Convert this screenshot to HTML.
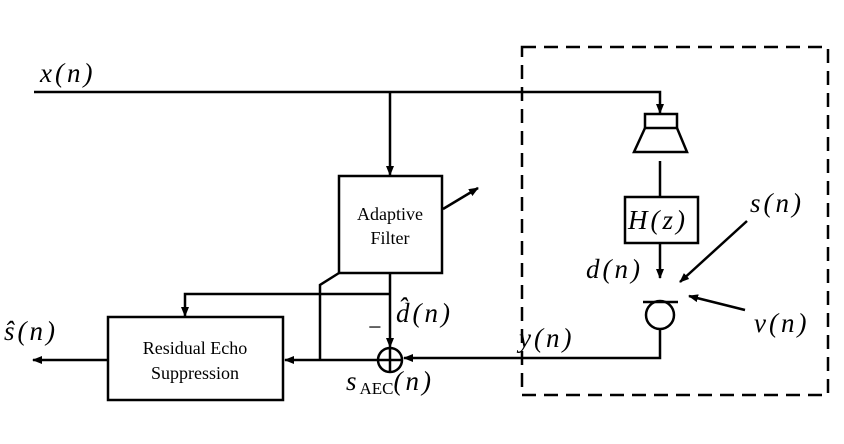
<!DOCTYPE html>
<html><head><meta charset="utf-8"><style>
body{margin:0;background:#fff}
svg text{font-family:"Liberation Serif",serif}
.m{font-style:italic;font-size:27px;letter-spacing:3px}
</style></head><body>
<svg width="844" height="439" viewBox="0 0 844 439" xmlns="http://www.w3.org/2000/svg">
<defs><marker id="a" markerWidth="10" markerHeight="8" refX="9" refY="4" orient="auto" markerUnits="userSpaceOnUse"><path d="M0,0 L10,4 L0,8z" fill="#000"/></marker></defs>
<g stroke="#000" stroke-width="2.5" fill="none">
<rect x="522" y="47" width="306" height="348" stroke-dasharray="14,8"/>
<path d="M34 92 H660 V113" marker-end="url(#a)"/>
<path d="M390 92 V175" marker-end="url(#a)"/>
<rect x="339" y="176" width="103" height="97"/>
<path d="M443 209 L478 188" marker-end="url(#a)"/>
<path d="M390 273 V347" marker-end="url(#a)"/>
<circle cx="390" cy="360" r="12"/>
<path d="M378 360 H402 M390 348 V372"/>
<path d="M390 294 H185 V316" marker-end="url(#a)"/>
<path d="M339 273 L320 285 V360"/>
<path d="M378 360 H285" marker-end="url(#a)"/>
<rect x="108" y="317" width="175" height="83"/>
<path d="M108 360 H33" marker-end="url(#a)"/>
<rect x="645" y="114" width="32" height="14"/>
<path d="M645 128 L634 152 H687 L677 128"/>
<path d="M660 161 V197"/>
<rect x="625" y="197" width="73" height="46"/>
<path d="M660 243 V278" marker-end="url(#a)"/>
<path d="M747 221 L680 282" marker-end="url(#a)"/>
<path d="M745 310 L689 296" marker-end="url(#a)"/>
<path d="M643 302 H678"/>
<circle cx="660" cy="315" r="14"/>
<path d="M660 329 V358 H404" marker-end="url(#a)"/>
</g>
<text class="m" x="40" y="82">x(n)</text>
<text x="390" y="220" font-size="18" text-anchor="middle">Adaptive</text>
<text x="390" y="244" font-size="18" text-anchor="middle">Filter</text>
<text x="195" y="354" font-size="18" text-anchor="middle">Residual Echo</text>
<text x="195" y="379" font-size="18" text-anchor="middle">Suppression</text>
<text class="m" x="4" y="340">ŝ(n)</text>
<text class="m" x="396" y="322">d̂(n)</text>
<text x="368" y="335" font-size="24">−</text>
<text class="m" x="346" y="390">s<tspan font-style="normal" font-size="17" letter-spacing="0" dy="4">AEC</tspan><tspan dy="-4">(n)</tspan></text>
<text class="m" x="519" y="347">y(n)</text>
<text class="m" x="628" y="229">H(z)</text>
<text class="m" x="586" y="278">d(n)</text>
<text class="m" x="750" y="212">s(n)</text>
<text class="m" x="754" y="332">v(n)</text>
</svg>
</body></html>
